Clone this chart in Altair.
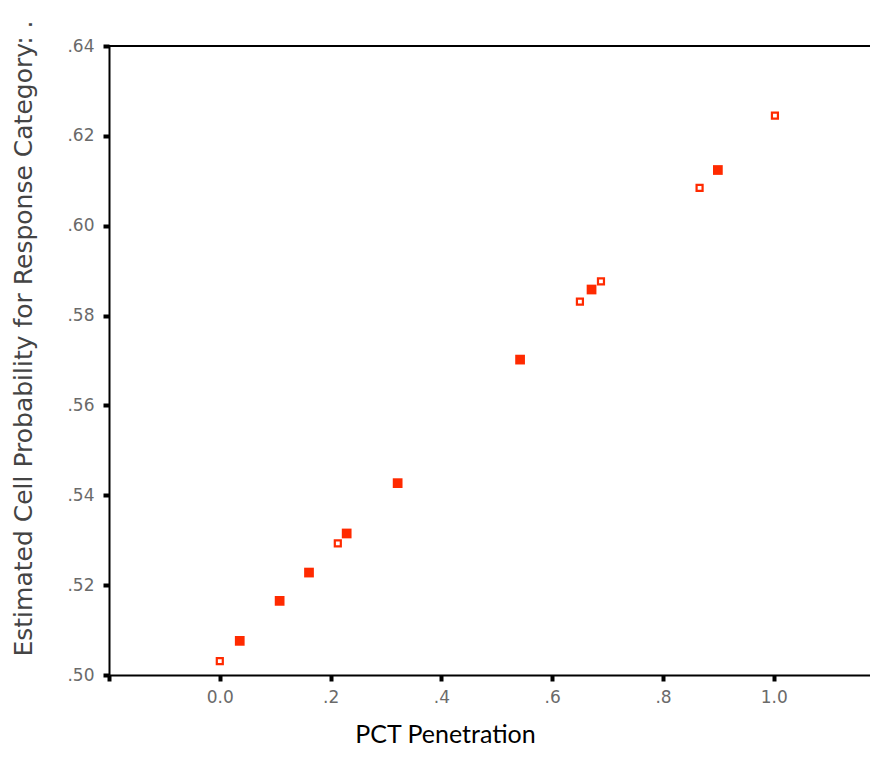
import altair as alt
import pandas as pd

# Data
pct = [0.000, 0.036, 0.108, 0.161, 0.213, 0.229, 0.321, 0.542, 0.650, 0.671, 0.688, 0.866, 0.899, 1.002]
prob = [0.5031, 0.5076, 0.5165, 0.5228, 0.5293, 0.5315, 0.5427, 0.5702, 0.5831, 0.5858, 0.5876, 0.6084, 0.6124, 0.6245]
kind = ["hollow", "filled", "filled", "filled", "hollow", "filled", "filled", "filled",
        "hollow", "filled", "hollow", "hollow", "filled", "hollow"]

x_ticks = [-0.2, 0.0, 0.2, 0.4, 0.6, 0.8, 1.0]
y_ticks = [0.50, 0.52, 0.54, 0.56, 0.58, 0.60, 0.62, 0.64]

df = pd.DataFrame({"pct": pct, "prob": prob, "kind": kind})

RED = "#ff2a00"
W, H = 761, 629

x_enc = alt.X(
    "pct:Q",
    scale=alt.Scale(domain=[-0.2, 1.1736], nice=False, zero=False),
    axis=alt.Axis(
        values=x_ticks,
        labelExpr="datum.value < -0.1 ? '' : (abs(datum.value) < 0.01 ? '0.0' : (datum.value > 0.99 ? '1.0' : replace(format(datum.value, '.1f'), '0.', '.')))",
        title="PCT Penetration",
        titleFont="Lato",
        titleFontSize=25,
        titleFontWeight="normal",
        titleColor="#000000",
        titleX=336,
        titleY=67,
        titleBaseline="alphabetic",
        titleAnchor="start",
        titleAlign="center",
        grid=False,
        domainColor="#000000",
        domainWidth=2,
        tickColor="#000000",
        tickWidth=4,
        tickSize=6,
        labelFont="DejaVu Sans",
        labelFontSize=17,
        labelColor="#6a6a6a",
        labelPadding=8,
    ),
)

y_enc = alt.Y(
    "prob:Q",
    scale=alt.Scale(domain=[0.50, 0.64], nice=False, zero=False),
    axis=alt.Axis(
        values=y_ticks,
        labelExpr="replace(format(datum.value, '.2f'), '0.', '.')",
        title="Estimated Cell Probability for Response Category: .",
        titleFont="DejaVu Sans",
        titleFontSize=25,
        titleFontWeight="normal",
        titleColor="#444444",
        titleAngle=270,
        titleX=-86,
        titleY=292,
        titleAlign="center",
        titleBaseline="middle",
        grid=False,
        domainColor="#000000",
        domainWidth=2,
        tickColor="#000000",
        tickWidth=4,
        tickSize=6,
        labelFont="DejaVu Sans",
        labelFontSize=17,
        labelColor="#6a6a6a",
        labelPadding=9,
    ),
)

base = alt.Chart(df)

filled = base.transform_filter(alt.datum.kind == "filled").mark_square(
    color=RED, size=95, opacity=1
).encode(x=x_enc, y=y_enc)

hollow = base.transform_filter(alt.datum.kind == "hollow").mark_point(
    shape="square", filled=False, color=RED, size=36, strokeWidth=2.2, opacity=1
).encode(x="pct:Q", y="prob:Q")

top_line = alt.Chart(pd.DataFrame({"a": [0]})).mark_rule(
    color="#000000", strokeWidth=2
).encode(x=alt.value(0), x2=alt.value(W), y=alt.value(0))

chart = alt.layer(filled, hollow, top_line).properties(
    width=W,
    height=H,
    autosize=alt.AutoSizeParams(type="none"),
    padding={"left": 101, "top": 38, "right": 0, "bottom": 71},
).configure_view(stroke=None).configure(background="#ffffff")

chart.save("out.html", embed_options={"renderer": "svg", "actions": False})
